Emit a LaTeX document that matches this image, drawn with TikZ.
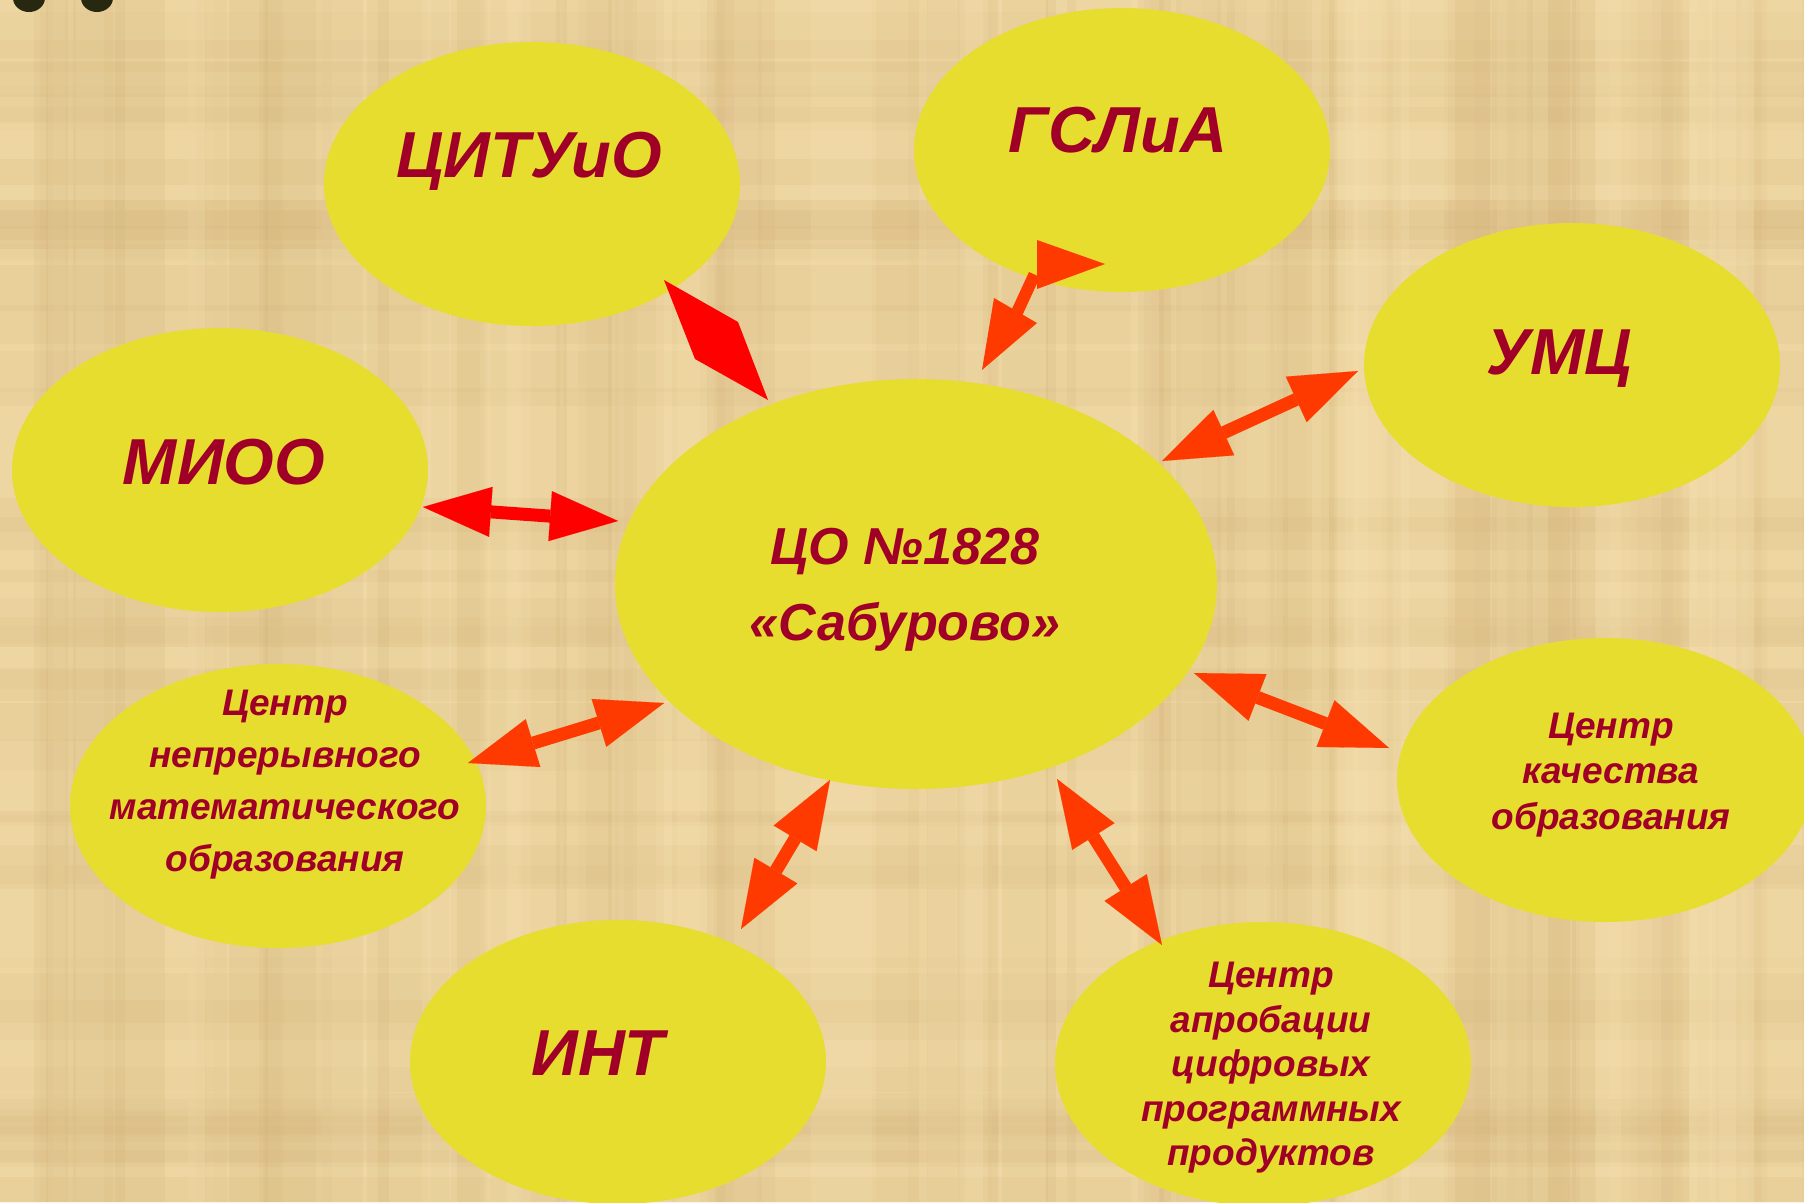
\documentclass[tikz,border=0pt]{standalone}
\usepackage{fontspec}
\setmainfont{Liberation Sans}
\usetikzlibrary{arrows.meta,shapes.geometric}
\definecolor{paper}{RGB}{238,214,162}
\definecolor{paperdark}{RGB}{205,172,112}
\definecolor{paperlight}{RGB}{248,228,180}
\definecolor{bubblefill}{RGB}{230,221,46}
\definecolor{labelred}{RGB}{160,0,40}
\definecolor{arrowred}{RGB}{255,0,0}
\definecolor{arroworange}{RGB}{255,58,0}
\definecolor{blob}{RGB}{40,40,16}
\tikzset{
  bubble/.style={ellipse, fill=bubblefill, draw=none, inner sep=0pt,
    minimum width=416pt, minimum height=284pt},
  hub/.style={ellipse, fill=bubblefill, draw=none, inner sep=0pt,
    minimum width=602pt, minimum height=410pt},
  bigtext/.style={text=labelred, font=\fontsize{65}{70}\selectfont\bfseries\itshape, inner sep=0pt},
  hubtext/.style={text=labelred, font=\fontsize{52}{76}\selectfont\bfseries\itshape, align=center, inner sep=0pt},
  smalltext/.style={text=labelred, align=center, inner sep=0pt},
  dblarrow/.style={line width=13pt, draw=#1,
    {Triangle[length=68pt,width=50pt,line width=0.1pt]}-{Triangle[length=68pt,width=50pt,line width=0.1pt]}},
}
\begin{document}
\begin{tikzpicture}[x=1pt,y=-1pt]
\useasboundingbox (0,0) rectangle (1804,1202);
% parchment background
\fill[paper] (0,0) rectangle (1804,1202);
\pgfmathsetseed{17}
\foreach \i in {1,...,70}{
  \pgfmathsetmacro\xx{rnd*1804}
  \pgfmathsetmacro\ww{8+rnd*50}
  \pgfmathsetmacro\op{0.05+rnd*0.12}
  \fill[paperdark, opacity=\op] (\xx,0) rectangle ++(\ww,1202);
}
\foreach \i in {1,...,45}{
  \pgfmathsetmacro\yy{rnd*1202}
  \pgfmathsetmacro\hh{8+rnd*45}
  \pgfmathsetmacro\op{0.04+rnd*0.10}
  \fill[paperdark, opacity=\op] (0,\yy) rectangle ++(1804,\hh);
}
\foreach \i in {1,...,30}{
  \pgfmathsetmacro\xx{rnd*1804}
  \pgfmathsetmacro\ww{10+rnd*60}
  \pgfmathsetmacro\op{0.10+rnd*0.15}
  \fill[paperlight, opacity=\op] (\xx,0) rectangle ++(\ww,1202);
}
% dark shapes at the top-left edge
\fill[blob] (29,-2) ellipse [x radius=16, y radius=14];
\fill[blob] (97,-2) ellipse [x radius=16, y radius=14];

% bubbles
\node[bubble] (citu) at (532,184) {};
\node[bubble] (gsl)  at (1122,150) {};
\node[bubble] (umc)  at (1572,365) {};
\node[bubble] (mioo) at (220,470) {};
\node[hub]    (hubn) at (916,584) {};
\node[bubble] (nepr) at (278,806) {};
\node[bubble] (kach) at (1605,780) {};
\node[bubble] (intn) at (618,1062) {};
\node[bubble] (aprb) at (1263,1064) {};

% labels
\node[bigtext] (citut) at (529,161) {ЦИТУиО};
\node[bigtext] (gslt)  at (1118,130) {ГСЛиА};
\node[bigtext] (umct)  at (1559,359) {УМЦ};
\node[bigtext] (miot)  at (224,462) {МИОО};
\node[bigtext] (intt)  at (598,1053) {ИНТ};
\node[hubtext] (hubt)  at (905,590) {ЦО №1828\\«Сабурово»};
\node[smalltext, font=\fontsize{37}{52}\selectfont\bfseries\itshape] (neprt) at (285,785)
  {Центр\\непрерывного\\математического\\образования};
\node[smalltext, font=\fontsize{37}{45.5}\selectfont\bfseries\itshape] (kacht) at (1611,775)
  {Центр\\качества\\образования};
\node[smalltext, font=\fontsize{37}{44.5}\selectfont\bfseries\itshape] (aprbt) at (1271,1068)
  {Центр\\апробации\\цифровых\\программных\\продуктов};

% connector end points
\coordinate (c1a) at (664,280);
\coordinate (c1b) at (738,322);
\coordinate (c1c) at (768,400);
\coordinate (c1d) at (695,359);
\coordinate (m1) at (423,507);  \coordinate (m2) at (618,521);
\coordinate (u1) at (1358,371); \coordinate (u2) at (1162,461);
\coordinate (n1) at (468,763);  \coordinate (n2) at (664,703);
\coordinate (i1) at (741,929);  \coordinate (i2) at (830,780);
\coordinate (k1) at (1194,673); \coordinate (k2) at (1389,748);
\coordinate (a1) at (1057,779); \coordinate (a2) at (1162,945);

% ЦИТУиО <-> hub (flattened arrow)
\fill[arrowred] (c1a) -- (c1b) -- (c1c) -- (c1d) -- cycle;
% МИОО <-> hub
\draw[dblarrow=arrowred] (m1) -- (m2);
% ГСЛиА <-> hub (distorted arrow)
\coordinate (g1) at (1037,240); \coordinate (g2) at (1105,264); \coordinate (g3) at (1037,289);
\coordinate (g4) at (994,298);  \coordinate (g5) at (1037,323); \coordinate (g6) at (982,370);
\fill[arroworange] (g1) -- (g2) -- (g3) -- cycle;
\fill[arroworange] (1029,272) -- (1040,277) -- (1022,316) -- (1011,311) -- cycle;
\fill[arroworange] (g4) -- (g5) -- (g6) -- cycle;
% others
\draw[dblarrow=arroworange] (u1) -- (u2);
\draw[dblarrow=arroworange] (n1) -- (n2);
\draw[dblarrow=arroworange] (i1) -- (i2);
\draw[dblarrow=arroworange] (k1) -- (k2);
\draw[dblarrow=arroworange] (a1) -- (a2);
\end{tikzpicture}
\end{document}
